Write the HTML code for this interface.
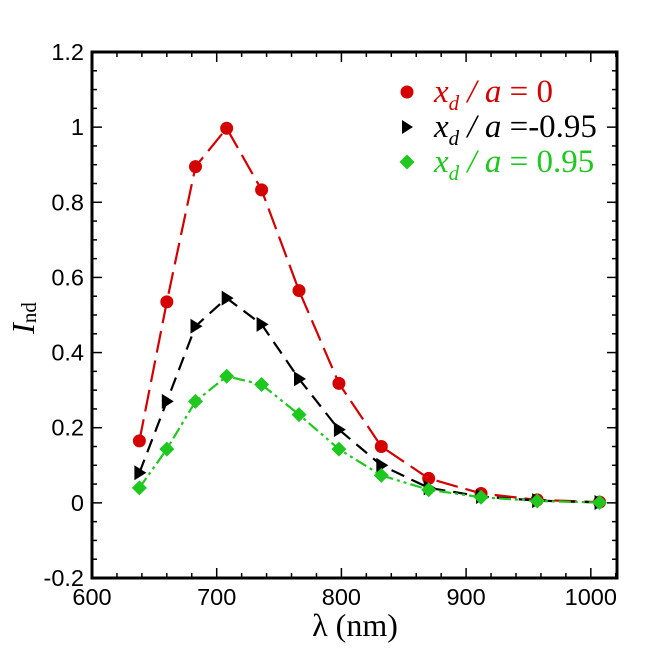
<!DOCTYPE html>
<html><head><meta charset="utf-8"><style>
html,body{margin:0;padding:0;background:#fff;}
svg{display:block;}
</style></head><body>
<svg id="chart" width="651" height="651" viewBox="0 0 651 651">
<g id="plot"></g>
</svg>
<script>
const wavelengths=[638,660,683,708,736,766,798,832,870,912,957,1007];
const seriesZero=[0.165,0.535,0.895,0.997,0.833,0.565,0.318,0.150,0.065,0.025,0.008,0.002];
const seriesNeg=[0.08,0.27,0.47,0.545,0.475,0.33,0.195,0.10,0.04,0.017,0.006,0.001];
const seriesPos=[0.04,0.143,0.27,0.337,0.315,0.235,0.143,0.073,0.035,0.015,0.005,0.001];
const xTickLabels=["600","700","800","900","1000"];
const yTickLabels=["-0.2","0","0.2","0.4","0.6","0.8","1","1.2"];

const L=92,R=617,T=52,B=578;
const X0=600,X1=1021,Y0=-0.2,Y1=1.2;
const sx=v=>L+(v-X0)/(X1-X0)*(R-L);
const sy=v=>B-(v-Y0)/(Y1-Y0)*(B-T);
const NS="http://www.w3.org/2000/svg";
const g=document.getElementById('plot');
function mk(tag,attrs,parent){const e=document.createElementNS(NS,tag);for(const k in attrs)e.setAttribute(k,attrs[k]);(parent||g).appendChild(e);return e;}

for(let v=600;v<=1020;v+=20){
  const major=v%100===0;const len=major?10:5;const x=sx(v);
  const t1=mk('line',{x1:x,x2:x,y1:B,y2:B-len,stroke:'#000','stroke-width':1.5});
  
  
  const t2=mk('line',{x1:x,x2:x,y1:T,y2:T+len,stroke:'#000','stroke-width':1.5});
  
  
}
xTickLabels.forEach(s=>{
  const t=mk('text',{x:sx(+s),y:B+27,'text-anchor':'middle','font-family':'Liberation Sans, sans-serif','font-size':23.5});
  t.textContent=s;
  
  
});
for(let i=0;i<=28;i++){
  const v=-0.2+i*0.05;const major=i%4===0;const len=major?10:5;const y=sy(v);
  const t1=mk('line',{x1:L,x2:L+len,y1:y,y2:y,stroke:'#000','stroke-width':1.5});
  
  
  const t2=mk('line',{x1:R,x2:R-len,y1:y,y2:y,stroke:'#000','stroke-width':1.5});
  
  
}
yTickLabels.forEach(s=>{
  const t=mk('text',{x:L-8,y:sy(+s)+8,'text-anchor':'end','font-family':'Liberation Sans, sans-serif','font-size':23.5});
  t.textContent=s;
  
  
});
const frame=mk('rect',{x:L,y:T,width:R-L,height:B-T,fill:'none',stroke:'#000','stroke-width':3});



function series(vals,color,dash,marker,name){
  const pts=wavelengths.map((w,i)=>sx(w)+','+sy(vals[i])).join(' ');
  const pl=mk('polyline',{points:pts,fill:'none',stroke:color,'stroke-width':2.2,'stroke-dasharray':dash});
  
  
  wavelengths.forEach((w,i)=>{
    const x=sx(w),y=sy(vals[i]);let m;
    if(marker==='circle')m=mk('circle',{cx:x,cy:y,r:6.5,fill:color});
    else if(marker==='tri')m=mk('polygon',{points:`${x-5},${y-7.5} ${x+7},${y} ${x-5},${y+7.5}`,fill:color});
    else m=mk('polygon',{points:`${x},${y-7.5} ${x+7.5},${y} ${x},${y+7.5} ${x-7.5},${y}`,fill:color});
    
    
  });
}
series(seriesZero,'#d40000','22 8','circle','series-xd-0');
series(seriesNeg,'#000','14 8','tri','series-xd-neg095');
series(seriesPos,'#1ec81e','12 4 3 4 3 4','diamond','series-xd-pos095');

const leg=[['#d40000','circle','= 0'],['#000','tri','=-0.95'],['#1ec81e','diamond','= 0.95']];
leg.forEach((e,i)=>{
  const y=92+i*35,x=407;let m;
  if(e[1]==='circle')m=mk('circle',{cx:x,cy:y,r:6.5,fill:e[0]});
  else if(e[1]==='tri')m=mk('polygon',{points:`${x-5},${y-7} ${x+6},${y} ${x-5},${y+7}`,fill:e[0]});
  else m=mk('polygon',{points:`${x},${y-7.5} ${x+7.5},${y} ${x},${y+7.5} ${x-7.5},${y}`,fill:e[0]});
  
  
  const t=mk('text',{x:434,y:y+10,fill:e[0],'font-family':'Liberation Serif, serif','font-size':33});
  t.innerHTML=`<tspan font-style="italic">x</tspan><tspan font-style="italic" font-size="21" dy="8">d</tspan><tspan dy="-8" font-style="italic"> / a </tspan><tspan>${e[2]}</tspan>`;
  
  
});

const xt=mk('text',{x:355,y:636,'text-anchor':'middle','font-family':'Liberation Serif, serif','font-size':32});
xt.textContent='λ (nm)';


const yt=mk('text',{x:0,y:0,'text-anchor':'middle','font-family':'Liberation Serif, serif','font-size':32,transform:'translate(34,318) rotate(-90)'});
yt.innerHTML='<tspan font-style="italic">I</tspan><tspan font-size="21" dy="2">nd</tspan>';


</script>
</body></html>
